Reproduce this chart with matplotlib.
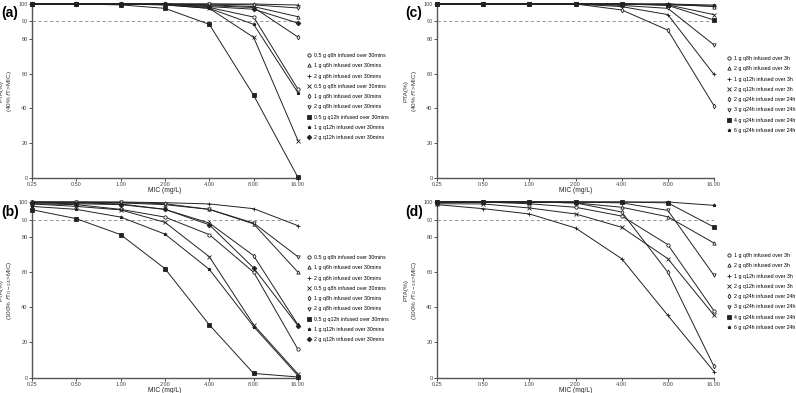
import matplotlib
matplotlib.use("Agg")
import matplotlib.pyplot as plt
from matplotlib.lines import Line2D

plt.rcParams['font.family'] = ['Liberation Sans', 'DejaVu Sans']

# MIC values (mg/L) and tick labels
mic = [0.25, 0.5, 1, 2, 4, 8, 16]
mic_labels = ["0.25", "0.50", "1.00", "2.00", "4.00", "8.00", "16.00"]
y_ticks = [0, 20, 40, 60, 80, 90, 100]

# intermittent regimens, panels (a) and (b)
labels_ab = ["0.5 g q6h infused over 30mins", "1 g q6h infused over 30mins",
             "2 g q6h infused over 30mins", "0.5 g q8h infused over 30mins",
             "1 g q8h infused over 30mins", "2 g q8h infused over 30mins",
             "0.5 g q12h infused over 30mins", "1 g q12h infused over 30mins",
             "2 g q12h infused over 30mins"]
markers_ab = ['o', '^', '+', 'x', 'd', 'v', 's', '*', 'D']
filled_ab = [False, False, True, True, False, False, True, True, True]

# panel (a): PTA 40% fT>MIC
pta_a = [
    [100, 100, 100, 100, 98.0, 92.5, 51.0],
    [100, 100, 100, 100, 99.5, 98.5, 92.7],
    [100, 100, 100, 100, 100, 100, 99.4],
    [100, 100, 100, 99.5, 97.5, 80.8, 21.5],
    [100, 100, 100, 100, 99.0, 98.0, 81.0],
    [100, 100, 100, 100, 100, 99.5, 97.7],
    [100, 100, 99.5, 97.5, 88.3, 47.5, 0.3],
    [100, 100, 100, 99.5, 97.5, 88.3, 49.0],
    [100, 100, 100, 100, 98.5, 97.0, 89.0],
]

# panel (b): PTA 100% fT0-24>MIC
pta_b = [
    [99.0, 98.5, 95.8, 91.4, 81.4, 60.0, 16.0],
    [100, 99.8, 99.5, 98.5, 95.8, 87.5, 60.0],
    [100, 100, 100, 99.6, 98.9, 96.2, 86.5],
    [98.9, 97.5, 95.5, 88.4, 68.8, 30.0, 2.0],
    [99.8, 99.5, 98.9, 95.8, 88.0, 69.4, 30.0],
    [100, 100, 99.8, 99.0, 95.8, 88.0, 68.8],
    [95.6, 90.5, 81.4, 62.0, 30.0, 2.3, 0.3],
    [97.5, 95.8, 91.4, 81.7, 61.6, 29.0, 1.0],
    [99.5, 99.0, 98.5, 95.8, 87.0, 62.4, 29.5],
]

# prolonged / continuous regimens, panels (c) and (d)
labels_cd = ["1 g q8h infused over 3h", "2 g q8h infused over 3h",
             "1 g q12h infused over 3h", "2 g q12h infused over 3h",
             "2 g q24h infused over 24h", "3 g q24h infused over 24h",
             "4 g q24h infused over 24h", "6 g q24h infused over 24h"]
markers_cd = ['o', '^', '+', 'x', 'd', 'v', 's', '*']
filled_cd = [False, False, True, True, False, False, True, True]

# panel (c): PTA 40% fT>MIC
pta_c = [
    [100, 100, 100, 100, 100, 99.5, 98.8],
    [100, 100, 100, 100, 100, 100, 98.5],
    [100, 100, 100, 100, 98.5, 93.9, 59.5],
    [100, 100, 100, 100, 100, 99.5, 93.9],
    [100, 100, 100, 100, 96.6, 85.0, 41.5],
    [100, 100, 100, 100, 99.2, 97.5, 76.5],
    [100, 100, 100, 100, 100, 99.2, 90.8],
    [100, 100, 100, 100, 100, 100, 99.4],
]

# panel (d): PTA 100% fT0-24>MIC
pta_d = [
    [100, 100, 99.0, 97.0, 92.0, 75.7, 38.0],
    [100, 100, 100, 99.5, 97.0, 91.6, 76.6],
    [98.5, 96.2, 93.2, 85.2, 67.7, 35.4, 3.4],
    [99.0, 98.9, 96.6, 93.2, 85.6, 67.7, 35.5],
    [100, 100, 100, 99.5, 94.3, 60.0, 6.3],
    [100, 100, 100, 100, 99.5, 95.2, 58.2],
    [100, 100, 100, 100, 100, 99.5, 85.7],
    [100, 100, 100, 100, 100, 100, 98.1],
]

W, H = 796, 393
fig = plt.figure(figsize=(W / 100, H / 100), dpi=100)


def box(x0, x1, ytop, ybot):
    return [x0 / W, 1 - ybot / H, (x1 - x0) / W, (ybot - ytop) / H]


def draw_panel(rect, data, labels, markers, filled, ylab2, letter, letter_xy, leg_xy):
    ax = fig.add_axes(rect)
    w_px = rect[2] * W
    h_px = rect[3] * H
    for vals, m, f in zip(data, markers, filled):
        ax.plot(mic, vals, color='#222222', lw=0.7, marker=m, ms=2.4,
                mew=0.6, mfc='#222222' if f else 'white', mec='#222222',
                clip_on=False, zorder=3)
    ax.axhline(90, color='#888888', lw=0.6, ls=(0, (4, 3)), zorder=1)
    ax.set_xscale('log', base=2)
    ax.set_xlim(0.25, 16)
    ax.set_ylim(0, 100)
    ax.set_xticks(mic)
    ax.set_xticklabels(mic_labels)
    ax.minorticks_off()
    ax.set_yticks(y_ticks)
    ax.tick_params(labelsize=4.0, length=2, width=0.6, pad=1.2,
                   colors='#333333', labelcolor='#444444')
    for s in ['top', 'right']:
        ax.spines[s].set_visible(False)
    for s in ['left', 'bottom']:
        ax.spines[s].set_color('#555555')
        ax.spines[s].set_linewidth(1.0)
    ax.set_xlabel('MIC (mg/L)', fontsize=4.8, color='#222222')
    ax.xaxis.set_label_coords(0.5, -9.5 / h_px)
    ax.set_ylabel('PTA(%)\n' + ylab2, fontsize=4.6, color='#333333',
                  linespacing=1.2)
    ax.yaxis.set_label_coords(-18 / w_px, 0.5)
    fig.text(letter_xy[0] / W, 1 - letter_xy[1] / H, letter, fontsize=10,
             fontweight='bold', va='center', ha='left')
    handles = [Line2D([], [], ls='none', marker=m, ms=2.4, mew=0.6,
                      mfc='#222222' if f else 'white', mec='#222222')
               for m, f in zip(markers, filled)]
    fig.legend(handles, labels, loc='upper left',
               bbox_to_anchor=(leg_xy[0] / W, 1 - leg_xy[1] / H),
               frameon=False, fontsize=3.8, handlelength=0.8, handletextpad=0.6,
               labelspacing=1.0, borderpad=0, borderaxespad=0)
    return ax


lab40 = '(40% $f$T>MIC)'
lab100 = '(100% $f$T$_{0-24}$>MIC)'

draw_panel(box(32, 298, 4, 178), pta_a, labels_ab, markers_ab, filled_ab,
           lab40, '(a)', (1, 13), (307, 53))
draw_panel(box(32, 298, 202, 377.5), pta_b, labels_ab, markers_ab, filled_ab,
           lab100, '(b)', (1, 212), (307, 255))
draw_panel(box(437, 714, 4, 178), pta_c, labels_cd, markers_cd, filled_cd,
           lab40, '(c)', (405, 13), (727, 56))
draw_panel(box(437, 714, 202, 377.5), pta_d, labels_cd, markers_cd, filled_cd,
           lab100, '(d)', (405, 212), (727, 253))

fig.savefig('out.png', dpi=100)
